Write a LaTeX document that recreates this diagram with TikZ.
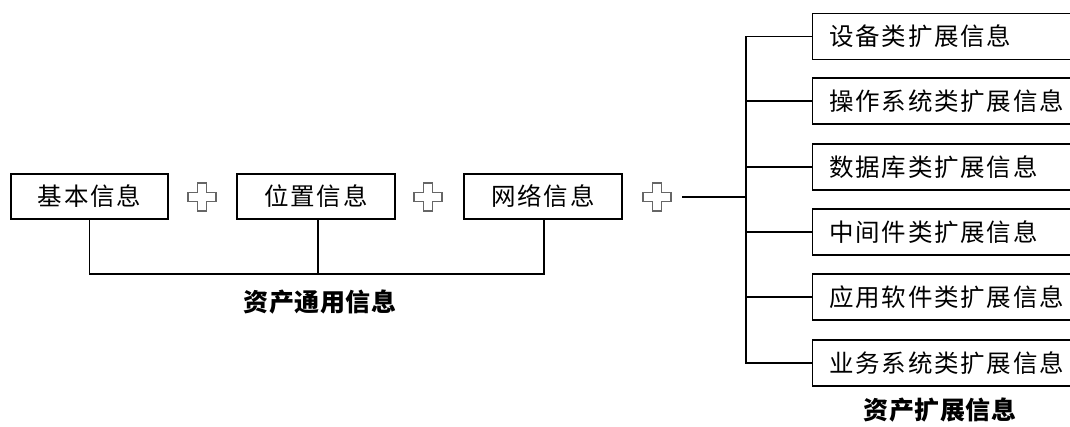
\documentclass[tikz,border=0pt]{standalone}
\usepackage{fontspec}
\setmainfont{Noto Sans CJK SC}
\begin{document}
\begin{tikzpicture}[x=1pt,y=-1pt,
  box/.style={draw=black,line width=1.4pt,fill=white,inner sep=0pt},
  lbl/.style={font=\fontsize{24.5}{26}\selectfont\addfontfeatures{LetterSpace=7}},
  captxt/.style={font=\fontsize{25}{27}\selectfont\bfseries\addfontfeatures{LetterSpace=2}},
  wire/.style={line width=1.4pt,line cap=rect},
  plus/.style={draw=gray!80!black,line width=1.2pt,fill=white}]
\useasboundingbox (0,0) rectangle (1070,426);
\path[clip] (0,0) rectangle (1070,426);
% left boxes
\node[box,minimum width=157pt,minimum height=45pt] (b1) at (89.5,196.5) {};
\node[lbl] at (b1) {基本信息};
\node[box,minimum width=158pt,minimum height=45pt] (b2) at (316,196.5) {};
\node[lbl] at (b2) {位置信息};
\node[box,minimum width=158pt,minimum height=45pt] (b3) at (543,196.5) {};
\node[lbl] at (b3) {网络信息};
% plus signs
\foreach \n/\cx in {p1/202,p2/428,p3/657}{
  \coordinate (\n) at (\cx,197);
  \draw[plus] ([shift={(-4.5,-14)}]\n) -- ([shift={(4.5,-14)}]\n) -- ([shift={(4.5,-4.5)}]\n)
   -- ([shift={(14,-4.5)}]\n) -- ([shift={(14,4.5)}]\n) -- ([shift={(4.5,4.5)}]\n)
   -- ([shift={(4.5,14)}]\n) -- ([shift={(-4.5,14)}]\n) -- ([shift={(-4.5,4.5)}]\n)
   -- ([shift={(-14,4.5)}]\n) -- ([shift={(-14,-4.5)}]\n) -- ([shift={(-4.5,-4.5)}]\n) -- cycle;
}
% bottom bracket
\coordinate (j1) at (89.5,274);
\coordinate (j2) at (318,274);
\coordinate (j3) at (544,274);
\draw[wire] (b1.south -| j1) -- (j1) -- (j3) -- (b3.south -| j3);
\draw[wire] (b2.south -| j2) -- (j2);
\node[captxt] (c1) at (320,302) {资产通用信息};
% right tree
\coordinate (s) at (683,197);
\coordinate (t) at (746,197);
\draw[wire] (s) -- (t);
\foreach \i/\yy/\txt in {1/36.5/设备类扩展信息,2/101/操作系统类扩展信息,3/167/数据库类扩展信息,4/232/中间件类扩展信息,5/297/应用软件类扩展信息,6/363/业务系统类扩展信息}{
  \node[box,minimum width=270pt,minimum height=46pt,anchor=west] (r\i) at (812,\yy) {};
  \node[lbl,anchor=west] at (826,\yy) {\txt};
  \coordinate (k\i) at (746,\yy);
  \draw[wire] (k\i) -- (r\i.west);
}
\draw[wire] (k1) -- (k6);
\node[captxt] (c2) at (940,410) {资产扩展信息};
\end{tikzpicture}
\end{document}
